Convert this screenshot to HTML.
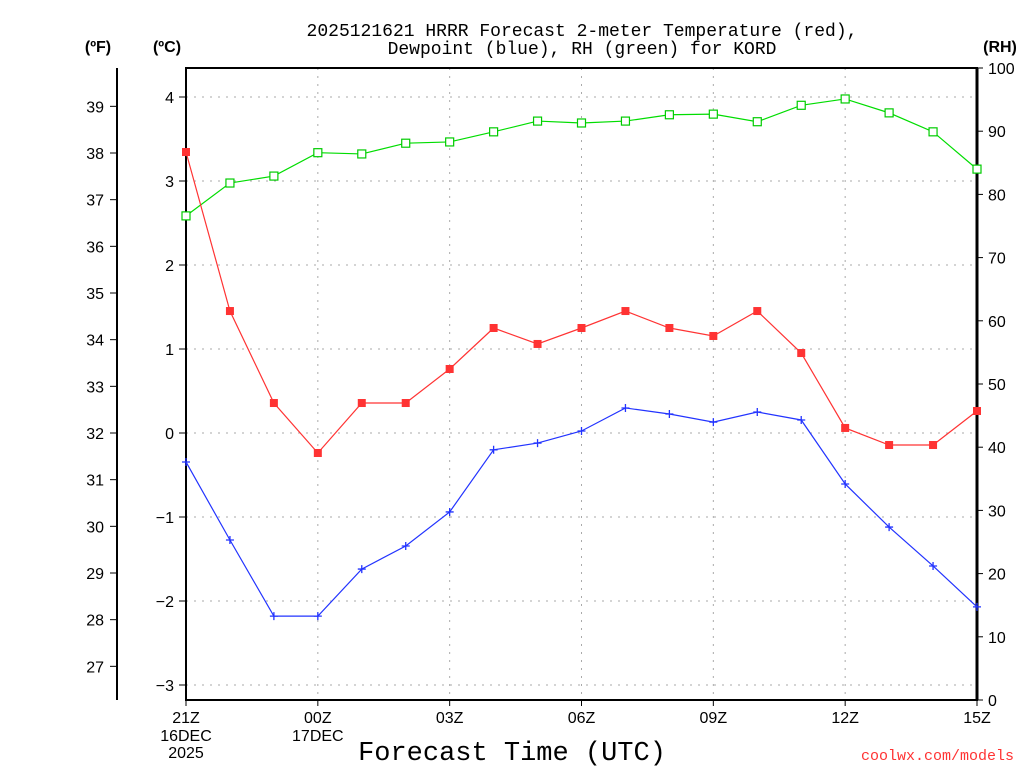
<!DOCTYPE html>
<html><head><meta charset="utf-8"><style>
html,body{margin:0;padding:0;background:#fff;}
svg{display:block;font-family:"Liberation Sans",sans-serif;}
.t{font-family:"Liberation Mono",monospace;}
</style></head><body>
<svg id="chart" width="1024" height="768" viewBox="0 0 1024 768" xmlns="http://www.w3.org/2000/svg">
<g id="grid"></g>
<g id="axes"></g>
<g id="series"></g>
<text class="t" x="582" y="36" font-size="18" text-anchor="middle">2025121621 HRRR Forecast 2-meter Temperature (red),</text>
<text class="t" x="582" y="54" font-size="18" text-anchor="middle">Dewpoint (blue), RH (green) for KORD</text>
<text x="98" y="52" font-size="16" font-weight="bold" text-anchor="middle">(ºF)</text>
<text x="167" y="52" font-size="16" font-weight="bold" text-anchor="middle">(ºC)</text>
<text x="1000" y="52" font-size="16" font-weight="bold" text-anchor="middle">(RH)</text>
<text x="512" y="760" font-size="27" text-anchor="middle" class="t">Forecast Time (UTC)</text>
<text x="1014" y="760" font-size="15" fill="#ff3333" text-anchor="end" class="t">coolwx.com/models</text>
</svg>
<script>
const hours=[0,1,2,3,4,5,6,7,8,9,10,11,12,13,14,15,16,17,18];
const tempC=[3.345,1.452,0.357,-0.238,0.357,0.357,0.762,1.25,1.06,1.25,1.452,1.25,1.155,1.452,0.952,0.06,-0.143,-0.143,0.262];
const dewC=[-0.345,-1.274,-2.18,-2.18,-1.62,-1.345,-0.94,-0.2,-0.12,0.024,0.298,0.226,0.13,0.25,0.155,-0.607,-1.12,-1.583,-2.07];
const rh=[76.6,81.8,82.9,86.6,86.4,88.1,88.3,89.9,91.6,91.3,91.6,92.6,92.7,91.5,94.1,95.1,92.9,89.9,84.0];
const cTicks=[4,3,2,1,0,-1,-2,-3];
const fTicks=[39,38,37,36,35,34,33,32,31,30,29,28,27];
const rhTicks=[0,10,20,30,40,50,60,70,80,90,100];
const xTickHours=[0,3,6,9,12,15,18];
const xTickLabels=["21Z","00Z","03Z","06Z","09Z","12Z","15Z"];

const L=186,R=977,T=68,B=700;
const xs=h=>L+(R-L)*h/18;
const yc=c=>433-84*c;
const yf=f=>yc((f-32)/1.8);
const yr=v=>B-(B-T)*v/100;
const NS="http://www.w3.org/2000/svg";
function mk(tag,attrs,parent,text){const e=document.createElementNS(NS,tag);for(const k in attrs)e.setAttribute(k,attrs[k]);if(text!==undefined)e.textContent=text;parent.appendChild(e);return e;}
const grid=document.getElementById('grid'),axes=document.getElementById('axes'),series=document.getElementById('series');

cTicks.forEach(c=>{const y=yc(c);
 const g=mk('line',{x1:L,x2:R,y1:y,y2:y,stroke:'#aaa','stroke-dasharray':'2,6'},grid);
 
 
 mk('line',{x1:L-7,x2:L,y1:y,y2:y,stroke:'#000'},axes);
 const t=mk('text',{x:L-12,y:y+6,'font-size':16,'text-anchor':'end'},axes,c<0?'\u2212'+(-c):String(c));
 
 
});
xTickHours.forEach((h,i)=>{const x=xs(h);
 if(i>0&&i<xTickHours.length-1){const g=mk('line',{x1:x,x2:x,y1:T,y2:B,stroke:'#aaa','stroke-dasharray':'2,6'},grid);
 
 }
 mk('line',{x1:x,x2:x,y1:B,y2:B+6,stroke:'#000'},axes);
 const t=mk('text',{x:x,y:723,'font-size':16,'text-anchor':'middle'},axes,xTickLabels[i]);
 
 
});
[["16DEC",0,741],["2025",0,758],["17DEC",3,741]].forEach(d=>{
 const t=mk('text',{x:xs(d[1]),y:d[2],'font-size':16,'text-anchor':'middle'},axes,d[0]);
 
 
});
fTicks.forEach(f=>{const y=yf(f);
 mk('line',{x1:110,x2:117,y1:y,y2:y,stroke:'#000'},axes);
 const t=mk('text',{x:104,y:y+6,'font-size':16,'text-anchor':'end'},axes,String(f));
 
 
});
rhTicks.forEach(v=>{const y=yr(v);
 mk('line',{x1:R,x2:R+6,y1:y,y2:y,stroke:'#000'},axes);
 const t=mk('text',{x:988,y:y+6,'font-size':16},axes,String(v));
 
 
});
mk('line',{x1:117,x2:117,y1:T,y2:B,stroke:'#000','stroke-width':2},axes);
mk('rect',{x:L,y:T,width:R-L,height:B-T,fill:'none',stroke:'#000','stroke-width':2},axes);
mk('line',{x1:R,x2:R,y1:T,y2:B,stroke:'#000','stroke-width':3},axes);

function line(vals,yf2,color,name){
 const p=mk('polyline',{points:vals.map((v,i)=>xs(hours[i])+','+yf2(v)).join(' '),fill:'none',stroke:color,'stroke-width':1.2},series);
 
 
}
line(rh,yr,'#00dd00','rh');
line(tempC,yc,'#ff3333','temperature');
line(dewC,yc,'#2233ff','dewpoint');
rh.forEach((v,i)=>{const m=mk('rect',{x:xs(hours[i])-4,y:yr(v)-4,width:8,height:8,fill:'#fff',stroke:'#00cc00','stroke-width':1.2},series);
 
 });
tempC.forEach((v,i)=>{const m=mk('rect',{x:xs(hours[i])-4,y:yc(v)-4,width:8,height:8,fill:'#ff3333'},series);
 
 });
dewC.forEach((v,i)=>{const x=xs(hours[i]),y=yc(v);
 const m=mk('path',{d:`M${x-4},${y}H${x+4}M${x},${y-4}V${y+4}`,stroke:'#2233ff','stroke-width':1.3},series);
 
 });
</script>
</body></html>
